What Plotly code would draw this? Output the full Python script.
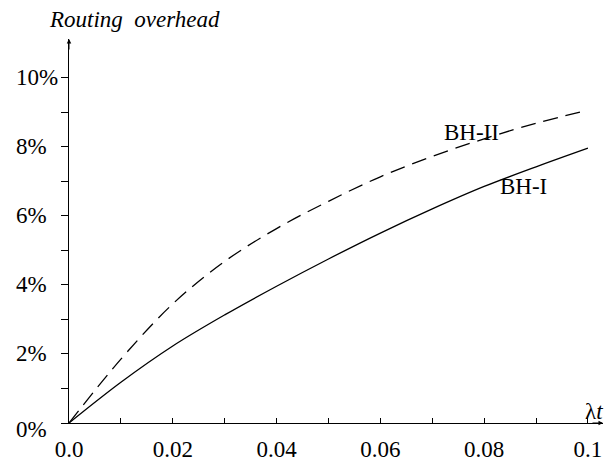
import plotly.graph_objects as go

# Data
lambda_t = [0.0, 0.01, 0.02, 0.03, 0.04, 0.05, 0.06, 0.07, 0.08, 0.09, 0.10]
bh_i = [0.0, 1.18, 2.23, 3.13, 3.96, 4.75, 5.50, 6.20, 6.85, 7.42, 7.96]
bh_ii = [0.0, 1.85, 3.45, 4.68, 5.63, 6.42, 7.13, 7.72, 8.23, 8.68, 9.06]

x_tick_vals = [0.0, 0.02, 0.04, 0.06, 0.08, 0.1]
x_tick_labels = ["0.0", "0.02", "0.04", "0.06", "0.08", "0.1"]
x_minor_vals = [0.0, 0.01, 0.02, 0.03, 0.04, 0.05, 0.06, 0.07, 0.08, 0.09, 0.1]
y_tick_vals = [0, 2, 4, 6, 8, 10]
y_tick_labels = ["0%", "2%", "4%", "6%", "8%", "10%"]
y_minor_vals = [0, 1, 2, 3, 4, 5, 6, 7, 8, 9, 10]

FONT = "Liberation Serif, Times New Roman, DejaVu Serif, serif"
FS = 23
X_MAX = 0.1029
Y_MAX = 11.12

fig = go.Figure()
fig.add_trace(go.Scatter(x=lambda_t, y=bh_i, mode="lines", name="BH-I",
                         line=dict(color="black", width=1.3, shape="spline")))
fig.add_trace(go.Scatter(x=lambda_t, y=bh_ii, mode="lines", name="BH-II",
                         line=dict(color="black", width=1.3, shape="spline", dash="15px,8px")))

annotations = []
# y tick labels (left aligned)
for v, lab in zip(y_tick_vals, y_tick_labels):
    annotations.append(dict(x=0, xref="paper", y=v, yref="y", text=lab, showarrow=False,
                            xanchor="left", yanchor="middle", xshift=-55,
                            yshift=(-6 if v == 0 else 0),
                            font=dict(family=FONT, size=FS, color="black")))
# curve labels
annotations.append(dict(x=0.0776, y=8.4, xref="x", yref="y", text="BH-II", showarrow=False,
                        font=dict(family=FONT, size=FS, color="black")))
annotations.append(dict(x=0.0875, y=6.85, xref="x", yref="y", text="BH-I", showarrow=False,
                        font=dict(family=FONT, size=FS, color="black")))
# axis titles
annotations.append(dict(x=1.0, y=0, xref="paper", yref="y", text="λ<i>t</i>", showarrow=False,
                        xanchor="right", yanchor="bottom", xshift=2, yshift=-3,
                        font=dict(family=FONT, size=FS, color="black")))
annotations.append(dict(x=0.122, y=1.0, xref="paper", yref="paper", text="<i>Routing\u00a0 overhead</i>",
                        showarrow=False, xanchor="center", yanchor="bottom", yshift=5,
                        font=dict(family=FONT, size=23, color="black")))
# arrowheads
annotations.append(dict(x=0, y=Y_MAX, xref="x", yref="y", ax=0, ay=12, showarrow=True,
                        arrowhead=2, arrowsize=0.9, arrowwidth=1, arrowcolor="black", text=""))
annotations.append(dict(x=X_MAX, y=0, xref="x", yref="y", ax=-12, ay=0, showarrow=True,
                        arrowhead=2, arrowsize=0.9, arrowwidth=1, arrowcolor="black", text=""))

fig.update_layout(
    width=605, height=464,
    margin=dict(l=61, r=10, t=31, b=47),
    paper_bgcolor="white", plot_bgcolor="white",
    showlegend=False,
    annotations=annotations,
    xaxis=dict(range=[0, X_MAX], showgrid=False, zeroline=False, showline=True,
               linecolor="black", linewidth=1,
               tickvals=x_minor_vals,
               ticktext=[x_tick_labels[x_tick_vals.index(v)] if v in x_tick_vals else "" for v in x_minor_vals],
               ticks="inside", ticklen=5, tickcolor="black", tickwidth=1,
               ticklabelstandoff=5,
               tickfont=dict(family=FONT, size=FS, color="black")),
    yaxis=dict(range=[0, Y_MAX], showgrid=False, zeroline=False, showline=True,
               linecolor="black", linewidth=1,
               tickvals=y_minor_vals, showticklabels=False,
               ticks="outside", ticklen=7, tickcolor="black", tickwidth=1),
)

fig.write_html("out.html")
